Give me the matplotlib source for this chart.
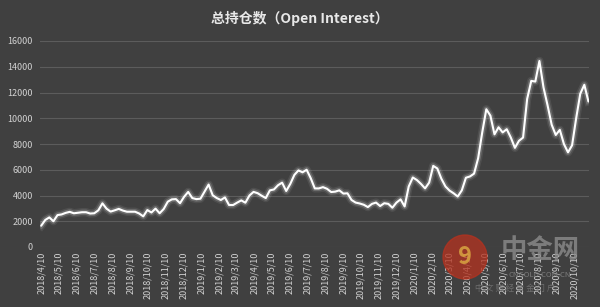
import numpy as np
import pandas as pd
import matplotlib
matplotlib.use('Agg')
import matplotlib.pyplot as plt
import matplotlib.dates as mdates
from matplotlib.patches import Circle

plt.rcParams['font.family'] = ['Noto Sans CJK SC', 'DejaVu Sans']

# --- данные: недельные значения открытого интереса ---
start_date = '2018-04-10'
oi_values = [
    1650, 2100, 2300, 2000, 2480, 2530, 2650, 2730, 2620, 2660,
    2700, 2700, 2600, 2620, 2850, 3390, 2980, 2750, 2850, 2960,
    2830, 2740, 2740, 2740, 2600, 2380, 2870, 2680, 2980, 2620,
    2950, 3520, 3700, 3720, 3400, 3900, 4280, 3800, 3720, 3750,
    4300, 4850, 4020, 3800, 3650, 3850, 3260, 3260, 3450, 3620,
    3440, 4000, 4280, 4180, 3980, 3800, 4400, 4470, 4800, 5000,
    4350, 4900, 5600, 5950, 5800, 6000, 5350, 4550, 4550, 4650,
    4520, 4270, 4300, 4400, 4150, 4170, 3650, 3450, 3380, 3280,
    3100, 3350, 3450, 3180, 3400, 3350, 3050, 3450, 3700, 3150,
    4700, 5400, 5200, 4900, 4550, 5000, 6300, 6100, 5300, 4700,
    4380, 4170, 3920, 4400, 5380, 5480, 5700, 6900, 8900, 10700,
    10200, 8750, 9300, 8900, 9150, 8500, 7700, 8250, 8500, 11500,
    12900, 12850, 14450, 12400, 11000, 9500, 8700, 9100, 8000, 7350,
    7900, 10000, 11900, 12600, 11300,
]
dates = pd.date_range(start_date, periods=len(oi_values), freq='7D')
title = '总持仓数（Open Interest）'
y_ticks = [0, 2000, 4000, 6000, 8000, 10000, 12000, 14000, 16000]

bg = '#404040'
fig = plt.figure(figsize=(6, 3.07), dpi=100, facecolor=bg)
ax = fig.add_axes([40 / 600, 60 / 307, 549 / 600, 206 / 307], facecolor=bg)

# линия с «свечением»
ax.plot(dates, oi_values, color='white', lw=6, alpha=0.08, solid_joinstyle='round')
ax.plot(dates, oi_values, color='white', lw=3.8, alpha=0.18, solid_joinstyle='round')
ax.plot(dates, oi_values, color='white', lw=1.5, solid_joinstyle='round', solid_capstyle='round')

ax.set_ylim(0, 16000)
ax.set_yticks(y_ticks)
ax.set_xlim(dates[0] - pd.Timedelta(days=2), dates[-1] + pd.Timedelta(days=1))
ax.xaxis.set_major_locator(mdates.MonthLocator(bymonthday=10))
ax.xaxis.set_major_formatter(plt.FuncFormatter(
    lambda v, p: '{}/{}/{}'.format(mdates.num2date(v).year, mdates.num2date(v).month, mdates.num2date(v).day)))

ax.grid(axis='y', color='#5c5c5c', lw=0.8)
ax.set_axisbelow(True)
for s in ax.spines.values():
    s.set_visible(False)
ax.tick_params(axis='both', length=0, colors='#d2d2d2', labelsize=6.5)
ax.tick_params(axis='y', pad=5)
ax.tick_params(axis='x', pad=3)
for lab in ax.get_xticklabels():
    lab.set_rotation(90)

fig.text(0.5, 1 - 18 / 307, title, color='#e8e8e8', fontsize=10, fontweight='bold',
         ha='center', va='center')

# водяной знак (в дюймах, чтобы круг был круглым)
tr = fig.dpi_scale_trans
fig.patches.append(Circle((4.65, 0.50), 0.22, transform=tr,
                          color='#b5321f', alpha=0.75, zorder=5))
fig.text(4.65, 0.50, '9', transform=tr, color='#d9a441', fontsize=17, fontweight='bold',
         ha='center', va='center', alpha=0.85, zorder=6)
fig.text(5.40, 0.56, '中金网', transform=tr, color='#8c8c8c', fontsize=19, fontweight='bold',
         ha='center', va='center', alpha=0.8, zorder=6)
fig.text(5.40, 0.32, 'CNGOLD.COM.CN', transform=tr, color='#8c8c8c', fontsize=5.5,
         ha='center', va='center', alpha=0.8, zorder=6)
fig.text(5.15, 0.19, '中 文 财 经 黄 金 门 户', transform=tr, color='#8c8c8c', fontsize=6,
         ha='center', va='center', alpha=0.6, zorder=6)

fig.savefig('out.png', dpi=100, facecolor=bg)
